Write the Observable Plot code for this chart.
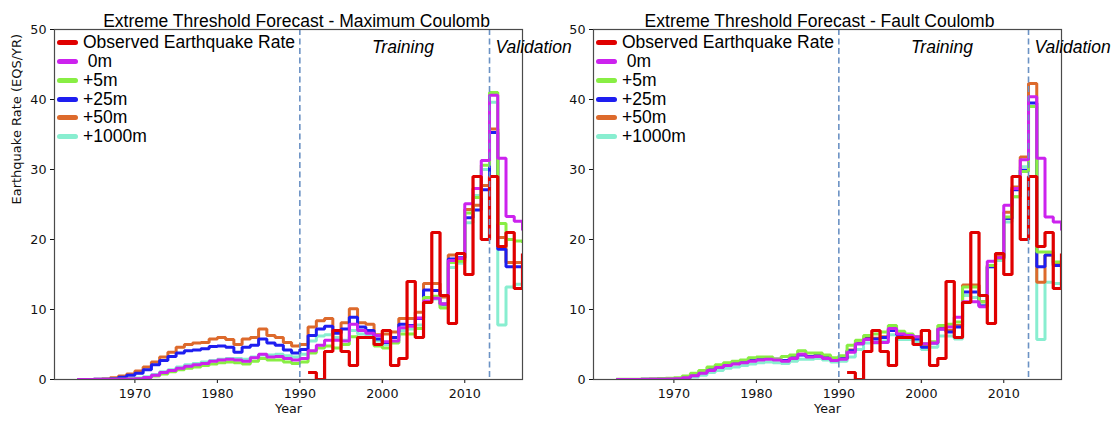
<!DOCTYPE html>
<html>
<head>
<meta charset="utf-8">
<script src="https://cdn.jsdelivr.net/npm/d3@7"></script>
<script src="https://cdn.jsdelivr.net/npm/@observablehq/plot@0.6"></script>
<style>
  body { margin: 0; background: #fff; }
  #wrap { position: relative; width: 1116px; height: 423px; overflow: hidden; }
  .panel { position: absolute; top: 0; width: 558px; height: 423px; }
  .panel svg { overflow: visible; }
  .legend { position: absolute; top: 0; font-family: "Liberation Sans", Arial, sans-serif; font-size: 17.5px; color: #000; }
  .row { position: absolute; left: 0; height: 20px; display: flex; align-items: center; white-space: pre; }
  .sw { display: inline-block; width: 21px; height: 5px; border-radius: 3px; margin-right: 5px; }
</style>
</head>
<body>
<div id="wrap"></div>
<script>
// ---------- data ----------
const years = [1963,1964,1965,1966,1967,1968,1969,
  1970,1971,1972,1973,1974,1975,1976,1977,1978,1979,
  1980,1981,1982,1983,1984,1985,1986,1987,1988,1989,
  1990,1991,1992,1993,1994,1995,1996,1997,1998,1999,
  2000,2001,2002,2003,2004,2005,2006,2007,2008,2009,
  2010,2011,2012,2013,2014,2015,2016,2017];

const obsYears = [1991,1992,1993,1994,1995,1996,1997,1998,1999,
  2000,2001,2002,2003,2004,2005,2006,2007,2008,2009,
  2010,2011,2012,2013,2014,2015,2016,2017];
const observed = [1,0,4,7,4,2,6,6,5, 7,2,3,14,6,11,21,12,8,18, 15,29,20,29,19,21,13,18];

// Maximum Coulomb panel
const maxC_0m = [0,0,0,0.02,0.03,0.05,0.08,
  0.1,0.3,0.6,1.0,1.3,1.6,1.9,2.1,2.3,2.6,
  2.8,2.9,2.8,2.6,3.1,3.6,3.2,3.3,3.0,2.8,
  3.0,4.1,4.9,5.6,5.6,5.5,7.9,7.0,6.6,6.3,
  5.4,5.5,7.4,7.6,8.8,11.2,11.6,10.8,17.0,17.3,
  25.1,27.3,31.3,40.6,31.6,23.3,22.6,21.3];
const maxC_5m = [0,0,0,0.02,0.03,0.05,0.07,
  0.1,0.3,0.5,0.8,1.1,1.4,1.6,1.8,2.0,2.2,
  2.4,2.5,2.4,2.2,2.6,3.0,2.8,2.8,2.5,2.3,
  2.5,3.8,4.5,4.8,4.5,5.0,6.1,6.0,6.0,4.8,
  4.5,5.2,6.5,6.5,7.3,11.7,11.9,10.2,16.7,16.9,
  23.8,26.0,30.6,41.0,22.3,20.0,19.8,19.5];
const maxC_25m = [0,0,0.02,0.05,0.1,0.33,0.6,
  0.9,1.4,2.1,2.7,3.3,3.8,4.1,4.2,4.4,4.7,
  4.8,4.6,3.9,4.6,4.9,5.8,5.2,4.9,4.2,3.8,
  4.3,6.3,7.2,7.6,6.6,7.2,8.9,7.5,7.0,5.8,
  5.3,6.0,7.9,7.7,8.7,12.8,12.7,10.8,17.2,17.4,
  23.1,24.2,27.1,35.3,18.6,16.1,16.1,15.8];
const maxC_50m = [0,0,0.03,0.08,0.24,0.5,0.8,
  1.2,1.8,2.5,3.2,3.9,4.6,5.0,5.2,5.3,5.8,
  6.0,5.7,5.0,5.8,6.0,7.2,6.3,6.0,5.3,4.8,
  5.0,7.5,8.4,8.7,7.0,8.1,10.1,8.1,7.9,6.4,
  6.5,6.8,8.7,8.7,9.6,13.7,13.7,11.8,17.8,18.0,
  24.3,24.9,27.7,35.8,20.3,16.7,16.7,16.2];
const maxC_1000m = [0,0,0,0.02,0.05,0.08,0.12,
  0.2,0.4,0.7,1.1,1.4,1.8,2.1,2.3,2.5,2.7,
  2.9,3.0,3.0,2.9,3.2,3.5,3.5,3.6,3.4,3.2,
  3.6,5.5,6.2,6.4,6.0,5.6,7.0,6.5,6.3,5.5,
  5.0,5.3,7.0,7.2,7.8,11.0,11.5,10.5,16.0,16.6,
  22.4,26.3,30.0,39.6,7.8,13.2,13.6,13.5];

// Fault Coulomb panel
const faultC_0m = [0,0,0,0,0.02,0.04,0.06,
  0.1,0.25,0.55,0.9,1.3,1.7,2.0,2.2,2.4,2.6,
  2.8,2.9,2.8,2.6,3.0,3.6,3.2,3.3,3.0,2.7,
  2.9,3.9,5.1,5.7,5.3,5.3,7.3,6.5,6.3,6.1,
  5.1,5.2,7.2,7.5,8.9,11.1,11.1,10.4,16.9,17.4,
  24.9,27.3,31.4,40.4,31.6,23.2,22.5,21.3];
const faultC_5m = [0.02,0.03,0.04,0.05,0.07,0.1,0.18,
  0.25,0.5,0.9,1.3,1.8,2.1,2.4,2.6,2.8,3.1,
  3.2,3.2,2.9,3.3,3.5,4.1,3.8,3.8,3.5,3.1,
  3.4,4.9,5.6,6.3,6.5,6.8,7.7,6.9,6.5,6.1,
  5.1,5.4,7.7,7.9,8.2,13.2,13.2,11.1,16.3,17.3,
  23.2,26.1,29.7,39.0,18.2,18.2,16.8,16.8];
const faultC_25m = [0,0,0,0.02,0.04,0.06,0.1,
  0.15,0.3,0.65,1.0,1.4,1.8,2.1,2.3,2.5,2.7,
  2.9,3.0,2.9,2.7,3.1,3.5,3.3,3.4,3.1,2.8,
  3.0,4.1,5.1,5.8,5.8,6.0,7.0,6.4,6.3,5.8,
  4.6,5.2,7.2,6.8,7.5,12.5,12.5,10.5,16.1,17.3,
  23.0,27.1,29.9,39.5,16.1,17.8,16.3,16.3];
const faultC_50m = [0,0,0,0.02,0.04,0.06,0.1,
  0.15,0.3,0.65,1.0,1.4,1.8,2.1,2.3,2.5,2.7,
  2.9,3.0,2.9,2.7,3.1,3.6,3.3,3.4,3.1,2.8,
  3.0,4.2,5.2,5.9,5.9,6.1,7.2,6.5,6.4,5.9,
  4.8,5.3,7.3,7.0,7.7,13.5,13.5,11.1,16.3,17.6,
  23.9,27.5,31.8,42.3,13.9,17.8,16.6,16.5];
const faultC_1000m = [0,0,0,0,0.01,0.02,0.03,
  0.05,0.15,0.35,0.6,1.0,1.3,1.6,1.8,2.0,2.2,
  2.4,2.5,2.4,2.3,2.6,2.9,2.9,3.0,2.8,2.5,
  2.6,3.2,4.3,5.2,5.2,5.5,6.4,5.7,5.7,5.4,
  4.3,4.6,6.2,6.2,5.8,12.0,11.7,10.6,16.1,17.0,
  22.5,26.1,30.4,39.0,5.7,13.9,13.7,13.7];

const legendLabels = ["Observed Earthquake Rate", " 0m", "+5m", "+25m", "+50m", "+1000m"];
const legendColors = ["#e00000", "#cc22ee", "#88ee44", "#1e1ef0", "#dd6a2c", "#88eed0"];

const periodStarts = [1990, 2013];
const periodLabels = [{label: "Training", year: 2002.5, anchor: "middle", dx: 0},
                      {label: "Validation", year: 2013, anchor: "start", dx: 6}];
const xTicks = [1970, 1980, 1990, 2000, 2010];
const yTicks = [0, 10, 20, 30, 40, 50];

// ---------- drawing ----------
const SANS = "'Liberation Sans', Arial, sans-serif";
function rows(xs, vals) { return xs.map((x, i) => ({year: x, rate: vals[i]})); }

function panel(title, modelSeries, opts) {
  // modelSeries in legend order [0m, 5m, 25m, 50m, 1000m]
  const drawOrder = [4, 3, 2, 1, 0];
  const lineMarks = drawOrder.map(k => Plot.line(rows(years, modelSeries[k]), {
    x: "year", y: "rate", curve: "step-after", stroke: legendColors[k + 1],
    strokeWidth: 3, strokeLinejoin: "miter", strokeLinecap: "butt", clip: true
  }));
  return Plot.plot({
    width: 558, height: 423,
    marginLeft: opts.ml, marginRight: opts.mr, marginTop: 29, marginBottom: 44,
    style: {background: "transparent", fontFamily: "'DejaVu Sans', sans-serif", fontSize: "12.7px", color: "#111", overflow: "visible"},
    x: {domain: [1960.25, 2017], ticks: xTicks, tickFormat: d => String(d), tickSize: 4, tickPadding: 5, label: null},
    y: {domain: [0, 50], ticks: yTicks, tickSize: 4, tickPadding: 4, label: null},
    marks: [
      ...lineMarks,
      Plot.line(rows(obsYears, observed), {x: "year", y: "rate", curve: "step-after", stroke: legendColors[0],
        strokeWidth: 3.2, strokeLinejoin: "miter", strokeLinecap: "butt", clip: true}),
      Plot.ruleX(periodStarts, {stroke: "#6b92c4", strokeWidth: 1.6, strokeDasharray: "6,3.5"}),
      Plot.frame({stroke: "#4a4a4a", strokeWidth: 1.2}),
      ...periodLabels.map(p => Plot.text([p], {x: "year", text: "label", frameAnchor: "top", dy: 11, dx: p.dx,
        textAnchor: p.anchor, fontStyle: "italic", fontSize: 17.5, fontFamily: SANS, fill: "#000"})),
      Plot.text([title], {frameAnchor: "top", dy: -15, dx: opts.tdx, fontSize: 17.5, fontFamily: SANS, fill: "#000"}),
      Plot.text(["Year"], {frameAnchor: "bottom", dy: 33, fontSize: 12.7, fill: "#111"}),
      opts.ylabel ? Plot.text([opts.ylabel], {frameAnchor: "left", rotate: -90, dx: -38, fontSize: 13, fill: "#111"}) : null
    ]
  });
}

function legend(left) {
  const div = document.createElement("div");
  div.className = "legend";
  div.style.left = left + "px";
  legendLabels.forEach((lab, i) => {
    const r = document.createElement("div");
    r.className = "row";
    r.style.top = (42.3 + i * 18.9 - 10) + "px";
    const sw = document.createElement("span");
    sw.className = "sw";
    sw.style.background = legendColors[i];
    r.appendChild(sw);
    r.appendChild(document.createTextNode(lab));
    div.appendChild(r);
  });
  return div;
}

const wrap = document.getElementById("wrap");
const p1 = document.createElement("div"); p1.className = "panel"; p1.style.left = "0px";
p1.appendChild(panel("Extreme Threshold Forecast - Maximum Coulomb",
  [maxC_0m, maxC_5m, maxC_25m, maxC_50m, maxC_1000m],
  {ml: 54, mr: 36, tdx: 8, ylabel: "Earthquake Rate (EQS/YR)"}));
const p2 = document.createElement("div"); p2.className = "panel"; p2.style.left = "558px";
p2.appendChild(panel("Extreme Threshold Forecast - Fault Coulomb",
  [faultC_0m, faultC_5m, faultC_25m, faultC_50m, faultC_1000m],
  {ml: 35, mr: 55, tdx: -8, ylabel: null}));
wrap.appendChild(p1);
wrap.appendChild(p2);
wrap.appendChild(legend(57));
wrap.appendChild(legend(596));
</script>
</body>
</html>
